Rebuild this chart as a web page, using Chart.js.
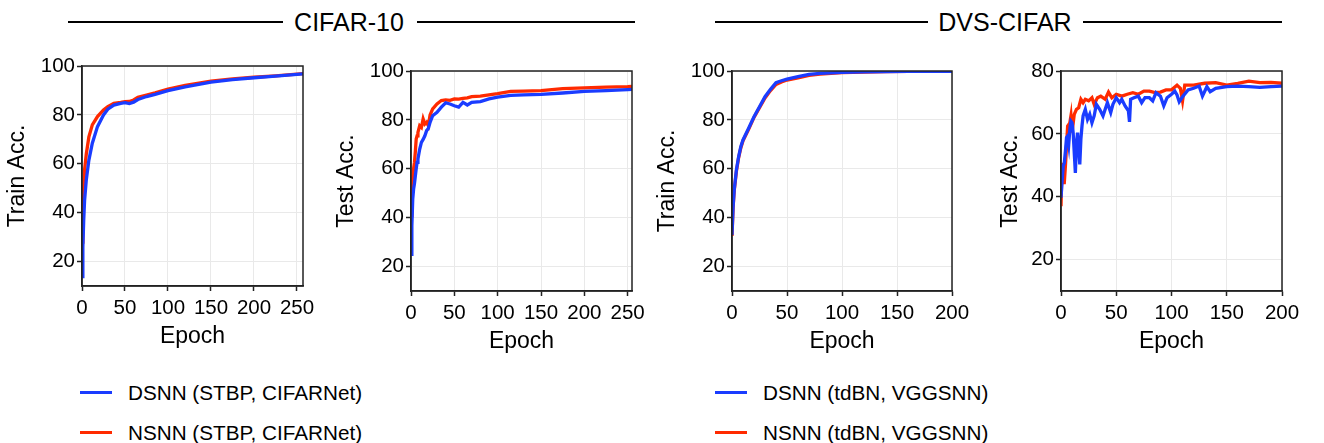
<!DOCTYPE html>
<html>
<head>
<meta charset="utf-8">
<script src="https://cdn.jsdelivr.net/npm/chart.js@4"></script>
<style>
body { margin:0; width:1324px; height:443px; background:#fff; position:relative; overflow:hidden; font-family:"Liberation Sans", Arial, sans-serif; color:#000; }
canvas { position:absolute; }
.rule { position:absolute; height:2px; background:#000; }
.head { position:absolute; font-size:25px; line-height:25px; transform:translate(-50%,-50%); white-space:nowrap; }
.key { position:absolute; height:3px; width:32px; }
.keytext { position:absolute; font-size:20.7px; line-height:21px; transform:translateY(-50%); white-space:nowrap; }
</style>
</head>
<body>

<div class="rule" style="left:68px;top:21px;width:215px"></div>
<div class="head" style="left:349px;top:22px">CIFAR-10</div>
<div class="rule" style="left:417px;top:21px;width:218px"></div>

<div class="rule" style="left:715px;top:21px;width:213px"></div>
<div class="head" style="left:1005px;top:22px">DVS-CIFAR</div>
<div class="rule" style="left:1083px;top:21px;width:199px"></div>

<canvas id="c1" width="326" height="300" style="left:2px;top:51px"></canvas>
<canvas id="c2" width="326" height="300" style="left:331px;top:56px"></canvas>
<canvas id="c3" width="325" height="300" style="left:652px;top:56px"></canvas>
<canvas id="c4" width="312" height="300" style="left:995px;top:56px"></canvas>

<div class="key" style="left:80px;top:391px;background:#1a3cff"></div>
<div class="keytext" style="left:128px;top:392px">DSNN (STBP, CIFARNet)</div>
<div class="key" style="left:80px;top:431px;background:#ff2a00"></div>
<div class="keytext" style="left:128px;top:432px">NSNN (STBP, CIFARNet)</div>

<div class="key" style="left:715px;top:391px;background:#1a3cff"></div>
<div class="keytext" style="left:763px;top:392px">DSNN (tdBN, VGGSNN)</div>
<div class="key" style="left:715px;top:431px;background:#ff2a00"></div>
<div class="keytext" style="left:763px;top:432px">NSNN (tdBN, VGGSNN)</div>

<script>
// CIFAR-10, train accuracy
const cifarTrainEpochs = [0,1,2,3,5,8,12,18,25,30,37,45,50,55,60,65,75,85,100,120,150,175,200,225,250,257];
const cifarTrainDSNN = [13.8,26,37,45,53.4,61.5,68.4,75.2,80,82.3,84,84.7,85,84.6,85.2,86.3,87.5,88.4,89.9,91.5,93.4,94.4,95.2,95.9,96.6,96.8];
const cifarTrainNSNN = [28,44,51,57.5,64,71,75.9,79.3,82,83.4,84.7,85.1,85.4,85.5,86.1,87.2,88.1,89,90.5,92.1,93.8,94.7,95.4,96,96.7,96.9];

// CIFAR-10, test accuracy
const cifarTestEpochs = [0,1,2,3,4,5,6,7,8,10,12,14,16,18,20,22,25,30,35,40,45,50,55,60,65,70,80,90,100,115,130,150,175,200,225,250,255];
const cifarTestDSNN = [25,36.6,47.6,51.7,54,57,60,62.6,64,68,70.8,72,73.5,75.6,76.5,79,81.7,83.1,85.2,87,86.5,85.8,85.2,87.2,86.1,87.2,87.5,88.6,89.3,90,90.2,90.4,91,91.7,92,92.4,92.5];
const cifarTestNSNN = [40.7,50.3,57.2,60,62.6,67,72.2,73.5,74.9,77.6,76.9,80.4,78.3,79,77.6,82,84.5,86.5,87.9,88.2,88,88.6,88.5,88.8,89,89.5,89.7,90.2,90.7,91.7,91.8,92,92.8,93.1,93.4,93.6,93.7];

// DVS-CIFAR, train accuracy
const dvsTrainEpochs = [0,1,2,4,6,8,10,15,20,25,30,35,40,45,50,60,70,80,100,120,140,160,180,200];
const dvsTrainDSNN = [32.9,44.5,51.3,59.5,64.9,69,71.8,76.5,81.3,85.4,89.5,92.5,95.2,96,96.7,97.7,98.6,99,99.4,99.7,99.8,99.9,99.9,99.9];
const dvsTrainNSNN = [32.5,44,51,59,64.5,68.5,71.5,76,81,85,89,92,94.5,95.5,96.3,97.2,98.2,98.7,99.3,99.6,99.8,99.9,99.9,99.9];

// DVS-CIFAR, test accuracy
const dvsTestEpochsDSNN = [0,1,2,3,4,5,6,7,8,9,10,11,13,14,15,17,18,19,20,22,24,26,28,30,32,35,38,40,42,45,47,50,53,55,58,61,62,63,66,70,73,76,80,83,86,90,93,96,100,103,105,107,110,115,120,125,128,132,135,140,150,160,170,180,190,200];
const dvsTestDSNN = [39.7,45,49.8,50.8,54.5,58.8,59.3,56.7,61.4,64,63.5,60.4,47.6,57.2,60.4,50.3,58.3,62.5,65.7,67.8,64.6,66.2,63.5,65.7,69.4,67.8,65.7,67.8,69.9,66.8,69.4,71.5,69.9,71,68.9,67.3,63.8,71,71.5,72,69.9,71.5,71.5,70.5,73.1,72,68.9,71.5,72.6,73.6,72.4,70.2,71.8,74,74.5,75.2,72,75,73.4,74.5,75,75.2,75,74.8,75,75.2];
const dvsTestEpochsNSNN = [0,1,2,3,4,5,6,8,9,10,12,14,16,18,20,22,25,28,30,33,36,40,43,46,50,55,60,65,70,75,80,85,90,95,100,105,108,110,112,120,130,140,150,160,170,180,190,200];
const dvsTestNSNN = [37,50.8,44.5,44.5,49.8,56.1,62.5,63.5,65.7,60.4,66.2,67.8,68.3,71,69.9,71,70.5,71.5,69.4,71.5,72,71,73.3,71.5,72.6,72,72.6,73.1,72.6,73.6,73.6,73.1,73.3,74,74,75.5,74.5,70.5,75.5,75.5,76.1,76.3,75.5,76.1,76.8,76.3,76.4,76.1];

const ticks250 = [0,50,100,150,200,250];
const ticks200 = [0,50,100,150,200];
const accTicks = [20,40,60,80,100];

const BLUE = '#1a3cff';
const RED = '#ff2a00';
const FONT = '"Liberation Sans", Arial, sans-serif';

function pairs(xs, ys) {
    return xs.map((x, i) => ({x: x, y: ys[i]}));
}

// black box around the plot area
const frame = {
    id: 'frame',
    afterDatasetsDraw(chart) {
        const a = chart.chartArea;
        const ctx = chart.ctx;
        ctx.save();
        ctx.strokeStyle = '#222';
        ctx.lineWidth = 1.5;
        ctx.strokeRect(a.left, a.top, a.right - a.left, a.bottom - a.top);
        ctx.restore();
    }
};

function draw_panel(id, xMax, xTicks, yMax, yTicks, yTitle, yWidth, dsnn, nsnn) {
    new Chart(document.getElementById(id), {
        type: 'line',
        data: {
            datasets: [
                { label: 'DSNN', data: dsnn, borderColor: BLUE, backgroundColor: BLUE },
                { label: 'NSNN', data: nsnn, borderColor: RED, backgroundColor: RED }
            ]
        },
        options: {
            responsive: false,
            animation: false,
            layout: { padding: { top: 15, right: 25, left: 0, bottom: 0 } },
            plugins: { legend: { display: false }, tooltip: { enabled: false } },
            elements: { point: { radius: 0 }, line: { borderWidth: 3.3, tension: 0 } },
            scales: {
                x: {
                    type: 'linear', min: 0, max: xMax,
                    afterBuildTicks: s => { s.ticks = xTicks.map(v => ({value: v})); },
                    afterFit: s => { s.height = 65; },
                    grid: { color: '#e9e9e9', lineWidth: 1, tickLength: 5, tickColor: '#222', tickWidth: 1.5 },
                    border: { color: '#222', width: 1.5 },
                    ticks: { color: '#000', font: { family: FONT, size: 20.5 }, padding: 5, maxRotation: 0, autoSkip: false },
                    title: { display: true, text: 'Epoch', color: '#000', font: { family: FONT, size: 23 }, padding: { top: 0, bottom: 1 } }
                },
                y: {
                    min: 10, max: yMax,
                    afterBuildTicks: s => { s.ticks = yTicks.map(v => ({value: v})); },
                    afterFit: s => { s.width = yWidth; },
                    grid: { color: '#e9e9e9', lineWidth: 1, tickLength: 5, tickColor: '#222', tickWidth: 1.5 },
                    border: { color: '#222', width: 1.5 },
                    ticks: { color: '#000', font: { family: FONT, size: 20.5 }, padding: 2 },
                    title: { display: true, text: yTitle, color: '#000', font: { family: FONT, size: 23 }, padding: { top: 2, bottom: 0 } }
                }
            }
        },
        plugins: [frame]
    });
}

draw_panel('c1', 257, ticks250, 100, accTicks, 'Train Acc.', 80,
    pairs(cifarTrainEpochs, cifarTrainDSNN), pairs(cifarTrainEpochs, cifarTrainNSNN));
draw_panel('c2', 255, ticks250, 100, accTicks, 'Test Acc.', 80,
    pairs(cifarTestEpochs, cifarTestDSNN), pairs(cifarTestEpochs, cifarTestNSNN));
draw_panel('c3', 200, ticks200, 100, accTicks, 'Train Acc.', 80,
    pairs(dvsTrainEpochs, dvsTrainDSNN), pairs(dvsTrainEpochs, dvsTrainNSNN));
draw_panel('c4', 200, ticks200, 80, [20,40,60,80], 'Test Acc.', 66,
    pairs(dvsTestEpochsDSNN, dvsTestDSNN), pairs(dvsTestEpochsNSNN, dvsTestNSNN));
</script>
</body>
</html>
